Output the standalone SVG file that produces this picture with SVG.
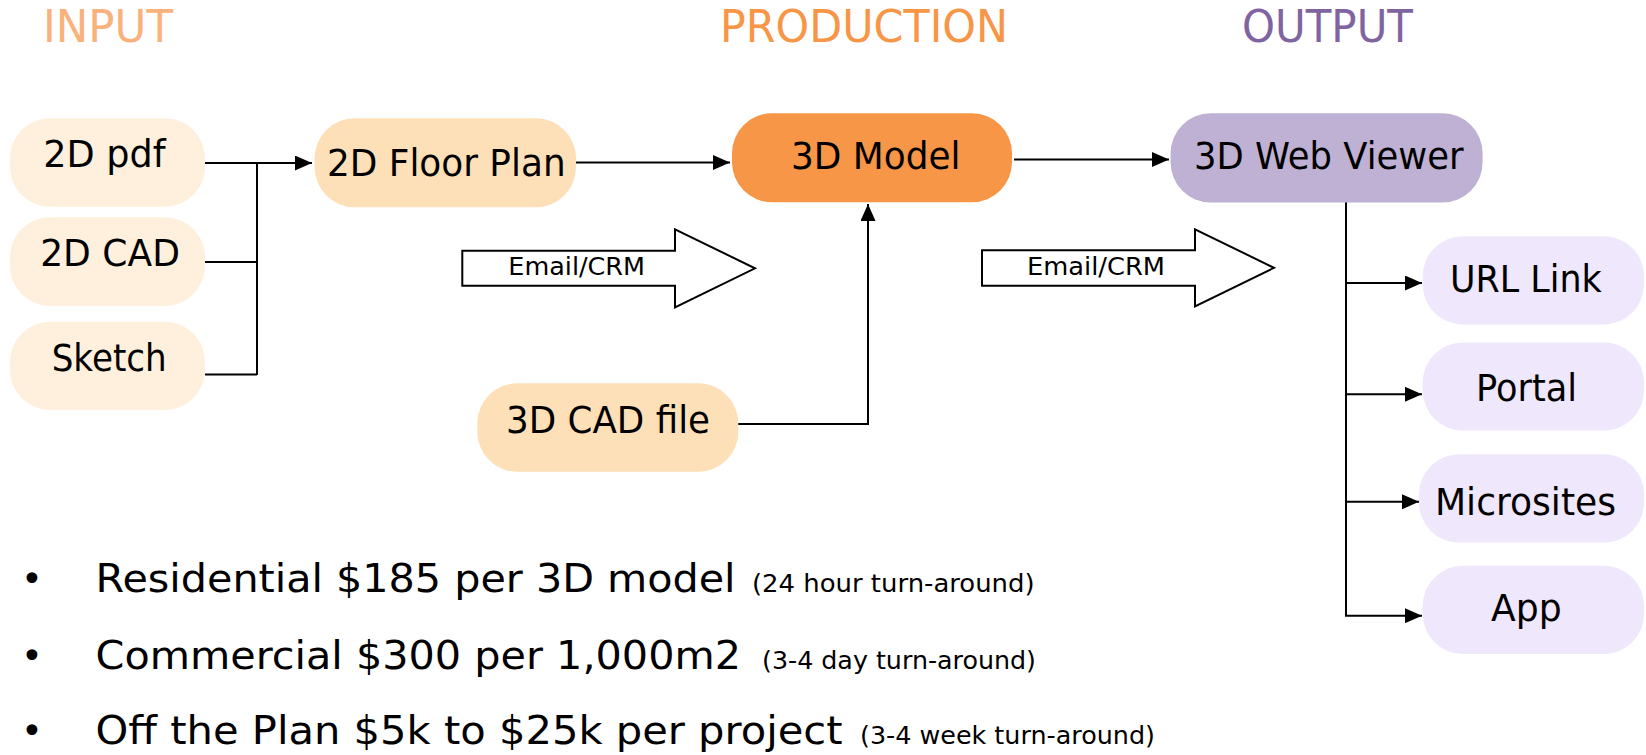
<svg xmlns="http://www.w3.org/2000/svg" width="1646" height="755" viewBox="0 0 1646 755">
<style>
text{font-family:"DejaVu Sans","Liberation Sans",sans-serif;fill:#000}
.hd{font-size:44px}
.nt{font-size:37px}
.em{font-size:25px}
.bl{font-size:39px}
.sm{font-size:24px}
.in{fill:#FEF0DC}
.fp{fill:#FDE0B7}
.md{fill:#F79646}
.wv{fill:#BFB1D3}
.op{fill:#EFE7FB}
.cn{fill:none;stroke:#000;stroke-width:2}
.ba{fill:#fff;stroke:#000;stroke-width:2}
</style>
<defs>
<marker id="ah" markerUnits="userSpaceOnUse" markerWidth="17" markerHeight="15" refX="17" refY="7.5" orient="auto">
<path d="M0,0 L17,7.5 L0,15 Z" fill="#000"/>
</marker>
</defs>
<g id="headers">
<text class="hd" x="43" y="42" textLength="130" lengthAdjust="spacingAndGlyphs" style="fill:#F9B27C">INPUT</text>
<text class="hd" x="720" y="42" textLength="288" lengthAdjust="spacingAndGlyphs" style="fill:#F79646">PRODUCTION</text>
<text class="hd" x="1242" y="42" textLength="171" lengthAdjust="spacingAndGlyphs" style="fill:#8064A2">OUTPUT</text>
</g>
<g id="connectors">
<path class="cn" d="M202,163 H312" marker-end="url(#ah)"/>
<path class="cn" d="M257,163 V375 M205,262 H257 M205,374.5 H257"/>
<path class="cn" d="M576,162.5 H730" marker-end="url(#ah)"/>
<path class="cn" d="M734,424 H868 V204" marker-end="url(#ah)"/>
<path class="cn" d="M1014,159.5 H1169" marker-end="url(#ah)"/>
<path class="cn" d="M1346,202 V616"/>
<path class="cn" d="M1345,283 H1422" marker-end="url(#ah)"/>
<path class="cn" d="M1345,394.3 H1422" marker-end="url(#ah)"/>
<path class="cn" d="M1345,501.8 H1419" marker-end="url(#ah)"/>
<path class="cn" d="M1345,615.7 H1422" marker-end="url(#ah)"/>
</g>
<g id="email1">
<polygon class="ba" points="462.3,250.7 675,250.7 675,229.3 755,268.3 675,307.3 675,285.7 462.3,285.7"/>
<text class="em" x="508.3" y="275" textLength="136.7" lengthAdjust="spacingAndGlyphs">Email/CRM</text>
</g>
<g id="email2">
<polygon class="ba" points="982,250.3 1195,250.3 1195,229.3 1274,267.8 1195,306.3 1195,285.7 982,285.7"/>
<text class="em" x="1027" y="275" textLength="138" lengthAdjust="spacingAndGlyphs">Email/CRM</text>
</g>
<g id="n2dpdf">
<rect class="in" x="10" y="118.3" width="195" height="88.5" rx="40"/>
<text class="nt" x="43.3" y="167.3" textLength="122.4" lengthAdjust="spacingAndGlyphs">2D pdf</text>
</g>
<g id="n2dcad">
<rect class="in" x="10" y="217.3" width="195" height="88.7" rx="40"/>
<text class="nt" x="40.2" y="265.7" textLength="139.7" lengthAdjust="spacingAndGlyphs">2D CAD</text>
</g>
<g id="nsketch">
<rect class="in" x="10" y="321.7" width="195" height="88.3" rx="40"/>
<text class="nt" x="51.7" y="371" textLength="115" lengthAdjust="spacingAndGlyphs">Sketch</text>
</g>
<g id="nfloorplan">
<rect class="fp" x="314.6" y="118.3" width="261.4" height="89" rx="40"/>
<text class="nt" x="327" y="175.7" textLength="238.6" lengthAdjust="spacingAndGlyphs">2D Floor Plan</text>
</g>
<g id="n3dmodel">
<rect class="md" x="732" y="113.3" width="280" height="89" rx="40"/>
<text class="nt" x="791" y="169" textLength="169.5" lengthAdjust="spacingAndGlyphs">3D Model</text>
</g>
<g id="n3dcad">
<rect class="fp" x="477.3" y="383.3" width="261" height="88.4" rx="40"/>
<text class="nt" x="506" y="433.3" textLength="204" lengthAdjust="spacingAndGlyphs">3D CAD file</text>
</g>
<g id="nwebviewer">
<rect class="wv" x="1170.6" y="113.2" width="312" height="89.3" rx="40"/>
<text class="nt" x="1194" y="169.3" textLength="269.5" lengthAdjust="spacingAndGlyphs">3D Web Viewer</text>
</g>
<g id="nurl">
<rect class="op" x="1422.7" y="236.2" width="221.3" height="88.2" rx="40"/>
<text class="nt" x="1450" y="291.7" textLength="151.7" lengthAdjust="spacingAndGlyphs">URL Link</text>
</g>
<g id="nportal">
<rect class="op" x="1422.7" y="342.5" width="221.3" height="88" rx="40"/>
<text class="nt" x="1476" y="400.7" textLength="101" lengthAdjust="spacingAndGlyphs">Portal</text>
</g>
<g id="nmicrosites">
<rect class="op" x="1419" y="454.3" width="225" height="88.3" rx="40"/>
<text class="nt" x="1435" y="515" textLength="181" lengthAdjust="spacingAndGlyphs">Microsites</text>
</g>
<g id="napp">
<rect class="op" x="1422.7" y="565.7" width="221.3" height="88.3" rx="40"/>
<text class="nt" x="1491" y="620.7" textLength="70.7" lengthAdjust="spacingAndGlyphs">App</text>
</g>
<g id="bullets">
<text class="nt" x="21" y="592">•</text>
<text class="bl" x="95.6" y="592" textLength="640" lengthAdjust="spacingAndGlyphs">Residential $185 per 3D model</text>
<text class="sm" x="752" y="592" textLength="282.6" lengthAdjust="spacingAndGlyphs">(24 hour turn-around)</text>
<text class="nt" x="21" y="669">•</text>
<text class="bl" x="95.6" y="669" textLength="645.4" lengthAdjust="spacingAndGlyphs">Commercial $300 per 1,000m2</text>
<text class="sm" x="762" y="669" textLength="274" lengthAdjust="spacingAndGlyphs">(3-4 day turn-around)</text>
<text class="nt" x="21" y="744">•</text>
<text class="bl" x="95.6" y="744" textLength="747" lengthAdjust="spacingAndGlyphs">Off the Plan $5k to $25k per project</text>
<text class="sm" x="860" y="744" textLength="295" lengthAdjust="spacingAndGlyphs">(3-4 week turn-around)</text>
</g>
</svg>
